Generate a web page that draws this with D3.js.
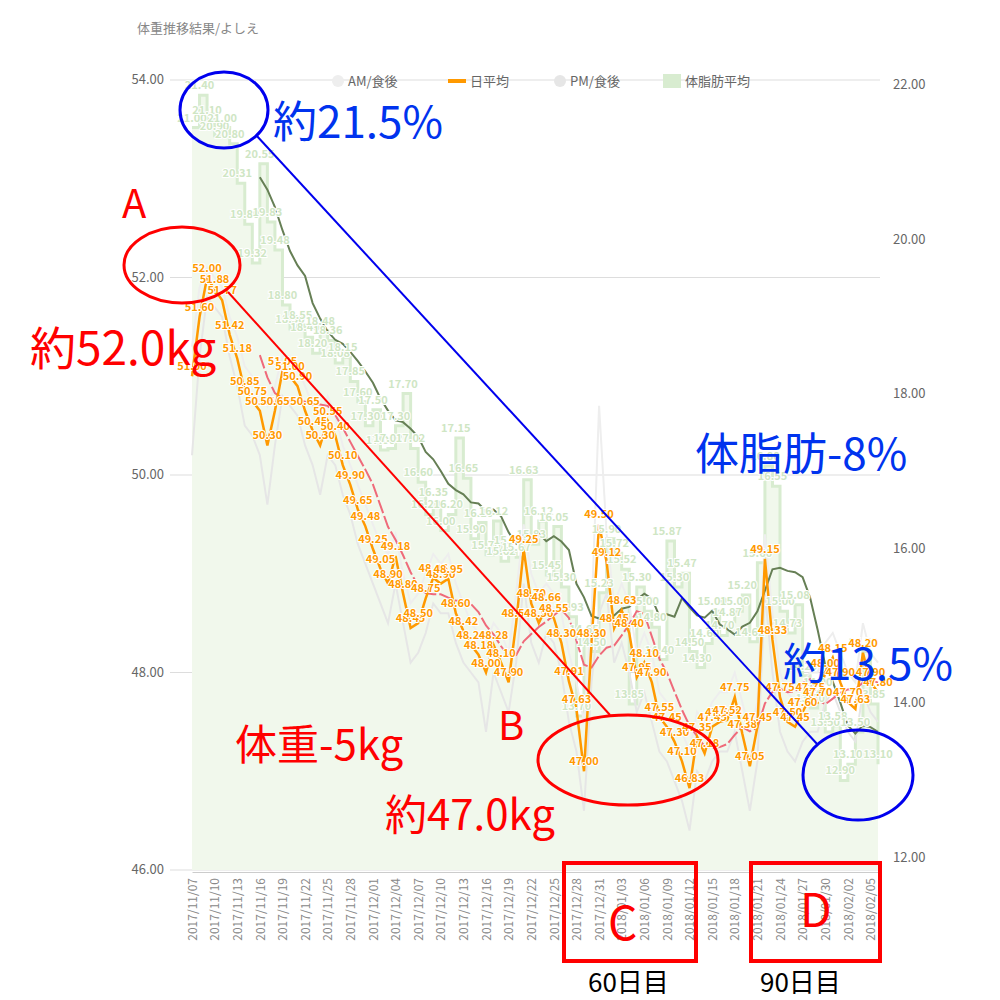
<!DOCTYPE html>
<html><head><meta charset="utf-8">
<script src="https://cdn.jsdelivr.net/npm/d3@7"></script>
<style>body{margin:0;background:#fff}text{font-family:"Noto Sans CJK JP","Liberation Sans",sans-serif}</style>
</head><body>
<svg id="chart" width="1000" height="1000"></svg>
<script>
// daily values, 2017/11/07 .. 2018/02/06
var startDate = '2017/11/07';
var weight = [51.0,51.6,52.0,51.88,51.77,51.42,51.18,50.85,50.75,50.65,50.3,50.65,51.05,51.0,50.9,50.65,50.45,50.3,50.55,50.4,
  50.1,49.9,49.65,49.48,49.25,49.05,48.9,49.18,48.8,48.45,48.5,48.75,48.96,48.9,48.95,48.6,48.42,48.28,48.18,48.0,
  48.28,48.1,47.9,48.5,49.25,48.7,48.5,48.66,48.55,48.3,47.91,47.63,47.0,48.3,49.5,49.12,48.45,48.63,48.4,47.95,
  48.1,47.9,47.55,47.45,47.3,47.1,46.83,47.35,47.18,47.45,47.5,47.52,47.75,47.38,47.05,47.45,49.15,48.33,47.75,47.5,
  47.45,47.6,47.75,47.7,48.0,48.15,47.9,47.7,47.63,48.2,47.9,47.8];
var fat = [21.0,21.4,21.1,20.9,21.0,20.8,20.31,19.8,19.32,20.55,19.83,19.48,18.8,18.5,18.55,18.4,18.2,18.48,18.36,18.08,
  18.15,17.85,17.6,17.3,17.5,17.0,17.02,17.3,17.7,17.02,16.6,16.2,16.35,16.0,16.2,17.15,16.65,15.9,16.1,15.7,
  16.12,15.62,15.76,15.67,16.63,15.83,16.12,15.45,16.05,15.3,14.93,13.7,14.65,14.5,15.23,15.9,15.72,15.52,13.85,15.3,
  15.0,14.8,14.4,15.87,15.3,15.47,14.5,14.3,14.6,15.0,14.7,14.87,15.0,15.2,14.62,15.6,16.8,16.55,15.0,14.73,
  15.08,14.2,13.8,14.0,13.5,13.58,12.9,13.1,13.5,14.5,13.85,13.1];
var amWeight = [51.3,51.9,52.1,52.0,51.9,51.6,51.4,51.1,51.0,50.9,50.7,50.9,51.2,51.2,51.1,50.9,50.7,50.6,50.8,50.6,
  50.3,50.1,49.9,49.7,49.5,49.3,49.2,49.4,49.0,48.7,48.8,49.0,49.2,49.1,49.2,48.9,48.7,48.5,48.4,48.3,
  48.5,48.4,48.2,48.8,49.5,49.0,48.8,48.9,48.8,48.6,48.2,47.9,47.5,48.6,50.7,49.4,48.7,48.9,48.7,48.2,
  48.4,48.2,47.8,47.7,47.6,47.4,47.2,47.6,47.5,47.7,47.8,47.8,48.0,47.7,47.4,47.7,49.4,48.6,48.0,47.8,
  47.7,47.9,48.0,48.0,48.3,48.4,48.2,48.0,47.9,48.5,48.2,48.1];
var pmWeight = [50.2,51.2,51.8,51.7,51.6,51.2,50.9,50.5,50.4,50.2,49.7,50.3,50.8,50.7,50.6,50.3,50.1,49.8,50.2,50.1,
  49.8,49.6,49.3,49.1,48.9,48.7,48.5,48.9,48.5,48.1,48.2,48.4,48.7,48.6,48.6,48.3,48.1,48.0,47.9,47.4,
  48.0,47.8,47.6,48.1,48.9,48.3,48.1,48.4,48.3,48.0,47.5,47.2,46.6,47.9,48.6,48.8,48.1,48.3,48.0,47.6,
  47.8,47.5,47.2,47.1,46.9,46.7,46.4,47.0,46.9,47.1,47.2,47.2,47.4,47.0,46.6,47.1,48.8,48.0,47.4,47.2,
  47.1,47.3,47.4,47.4,47.7,47.8,47.6,47.4,47.3,47.8,47.6,47.5];
var leftTicks = [46, 48, 50, 52, 54];
var rightTicks = [12, 14, 16, 18, 20, 22];
var legendNames = ['AM/食後', '日平均', 'PM/食後', '体脂肪平均'];

var svg = d3.select('#chart');
var parse = d3.timeParse('%Y/%m/%d');
var fmt = d3.timeFormat('%Y/%m/%d');
var d0 = parse(startDate);
var dates = weight.map(function(v, i) { return d3.timeDay.offset(d0, i); });

var x = d3.scaleTime().domain([d0, dates[dates.length - 1]]).range([192, 878]);
var yL = d3.scaleLinear().domain([46, 54]).range([870, 80]);
var yR = d3.scaleLinear().domain([12, 22]).range([858, 85]);
// the fat series is drawn on its own (slightly different) scale in the source chart
var yF = d3.scaleLinear().domain([12, 22]).range([853, 47]);

svg.append('text').attr('x', 137).attr('y', 33).attr('font-size', 13).attr('fill', '#888').text('体重推移結果/よしえ');

// grid
svg.append('g').selectAll('line').data(leftTicks).enter().append('line')
  .attr('x1', 170).attr('x2', 880).attr('y1', yL).attr('y2', yL)
  .attr('stroke', '#ddd');
svg.append('g').selectAll('text').data(leftTicks).enter().append('text')
  .attr('x', 164).attr('y', function(d) { return yL(d) + 4; }).attr('text-anchor', 'end')
  .attr('font-size', 13).attr('fill', '#666').text(function(d) { return d.toFixed(2); });
svg.append('g').selectAll('text').data(rightTicks).enter().append('text')
  .attr('x', 893).attr('y', function(d) { return yR(d) + 4; })
  .attr('font-size', 13).attr('fill', '#666').text(function(d) { return d.toFixed(2); });

// body fat step area
var idx = d3.range(weight.length);
var area = d3.area().curve(d3.curveStepAfter)
  .x(function(i) { return x(dates[i]); }).y0(870).y1(function(i) { return yF(fat[i]); });
svg.append('path').attr('d', area(idx)).attr('fill', '#f1f8ec');
svg.append('path').attr('d', d3.line().curve(d3.curveStepAfter)
  .x(function(i) { return x(dates[i]); }).y(function(i) { return yF(fat[i]); })(idx))
  .attr('fill', 'none').attr('stroke', '#d8ecd0').attr('stroke-width', 3);

// x axis
var xAxis = d3.axisBottom(x).tickValues(dates.filter(function(d, i) { return i % 3 === 0; }))
  .tickFormat(fmt).tickSize(0);
var gx = svg.append('g').attr('transform', 'translate(0,872)').call(xAxis);
gx.select('.domain').attr('stroke', '#ccc');
gx.selectAll('text').attr('transform', 'rotate(-90)').attr('text-anchor', 'end')
  .attr('x', -6).attr('y', 0).attr('dy', '0.35em').attr('font-size', 12).attr('fill', '#888');

function line(arr, sc) {
  return d3.line().defined(function(i) { return arr[i] != null; })
    .x(function(i) { return x(dates[i]); }).y(function(i) { return sc(arr[i]); })(idx);
}
svg.append('path').attr('d', line(amWeight, yL)).attr('fill', 'none').attr('stroke', '#eee').attr('stroke-width', 2);
svg.append('path').attr('d', line(pmWeight, yL)).attr('fill', 'none').attr('stroke', '#e6e6e6').attr('stroke-width', 2);

// 7-day moving averages
function rolling(arr) {
  return arr.map(function(v, i) { return i < 9 ? null : d3.mean(arr.slice(i - 6, i + 1)); });
}
var fatAvg = rolling(fat), wAvg = rolling(weight);
svg.append('path').attr('d', line(wAvg, yL)).attr('fill', 'none').attr('stroke', '#ef6a7a').attr('stroke-width', 2).attr('stroke-dasharray', '14,3');
svg.append('path').attr('d', line(fatAvg, yF)).attr('fill', 'none').attr('stroke', '#667f55').attr('stroke-width', 2);

svg.append('path').attr('d', line(weight, yL)).attr('fill', 'none').attr('stroke', '#ff9900').attr('stroke-width', 2.5);

// labels
svg.append('g').selectAll('text').data(idx).enter().append('text')
  .attr('x', function(i) { return x(dates[i]); }).attr('y', function(i) { return yF(fat[i]) - 6; })
  .attr('text-anchor', 'middle').attr('font-size', 11).attr('font-weight', 'bold')
  .attr('fill', '#cfe6c4').attr('stroke', '#fff').attr('stroke-width', 2).attr('paint-order', 'stroke')
  .text(function(i) { return fat[i].toFixed(2); });
svg.append('g').selectAll('text').data(idx).enter().append('text')
  .attr('x', function(i) { return x(dates[i]); }).attr('y', function(i) { return yL(weight[i]) - 6; })
  .attr('text-anchor', 'middle').attr('font-size', 11).attr('font-weight', 'bold')
  .attr('fill', '#ff9900').attr('stroke', '#fff').attr('stroke-width', 2).attr('paint-order', 'stroke')
  .text(function(i) { return weight[i].toFixed(2); });

// legend
var lg = svg.append('g').attr('font-size', 13).attr('fill', '#666');
var lx = [348, 470, 570, 685];
var lcol = ['#eee', '#ff9900', '#e6e6e6', '#d8ecd0'];
legendNames.forEach(function(n, i) {
  if (i === 0 || i === 2) lg.append('circle').attr('cx', lx[i] - 10).attr('cy', 81).attr('r', 6).attr('fill', lcol[i]);
  else lg.append('rect').attr('x', lx[i] - 22).attr('y', i === 1 ? 79 : 74).attr('width', 18).attr('height', i === 1 ? 4 : 14).attr('fill', lcol[i]);
  lg.append('text').attr('x', lx[i]).attr('y', 86).attr('fill', '#666').text(n);
});

// annotations
var ann = svg.append('g').attr('fill', 'none').attr('stroke-width', 3);
ann.append('ellipse').attr('cx', 182).attr('cy', 265).attr('rx', 58).attr('ry', 38).attr('stroke', 'red');
ann.append('line').attr('x1', 228).attr('y1', 292).attr('x2', 610).attr('y2', 715).attr('stroke', 'red').attr('stroke-width', 2);
ann.append('ellipse').attr('cx', 628).attr('cy', 760).attr('rx', 90).attr('ry', 45).attr('stroke', 'red');
ann.append('rect').attr('x', 564).attr('y', 863).attr('width', 132).attr('height', 98).attr('stroke', 'red').attr('stroke-width', 4);
ann.append('rect').attr('x', 751).attr('y', 863).attr('width', 129).attr('height', 98).attr('stroke', 'red').attr('stroke-width', 4);
ann.append('ellipse').attr('cx', 224).attr('cy', 110).attr('rx', 44).attr('ry', 38).attr('stroke', '#0000ee');
ann.append('line').attr('x1', 256).attr('y1', 135).attr('x2', 818).attr('y2', 745).attr('stroke', '#0000ee').attr('stroke-width', 2);
ann.append('ellipse').attr('cx', 858).attr('cy', 775).attr('rx', 55).attr('ry', 45).attr('stroke', '#0000ee');

function note(t, px, py, size, col) {
  svg.append('text').attr('x', px).attr('y', py).attr('font-size', size).attr('fill', col)
    .attr('font-family', '"Liberation Sans","Noto Sans CJK JP",sans-serif').text(t);
}
note('A', 122, 218, 40, 'red');
note('約52.0kg', 30, 365, 46, 'red');
note('B', 498, 740, 40, 'red');
note('体重-5kg', 235, 760, 42, 'red');
note('約47.0kg', 385, 830, 42, 'red');
note('C', 608, 940, 46, 'red');
note('D', 800, 927, 46, 'red');
note('60日目', 588, 992, 26, '#000');
note('90日目', 760, 992, 26, '#000');
note('約21.5%', 273, 138, 44, '#0033ee');
note('体脂肪-8%', 695, 470, 44, '#0033ee');
note('約13.5%', 783, 680, 44, '#0033ee');
</script>
</body></html>
